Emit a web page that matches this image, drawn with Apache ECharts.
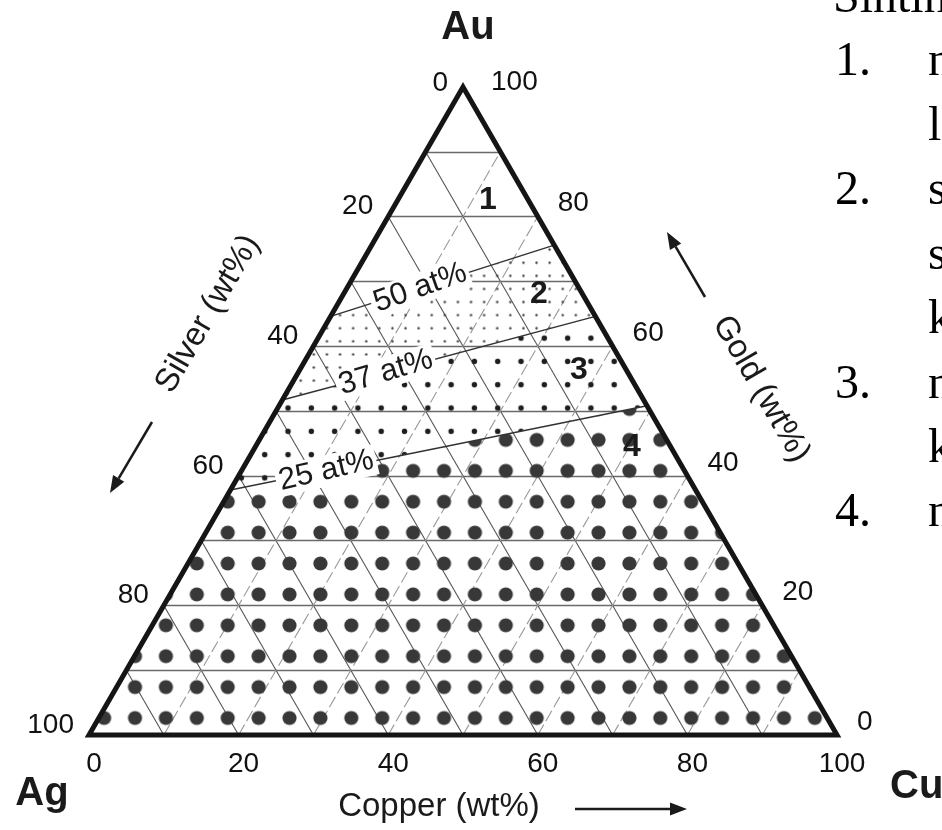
<!DOCTYPE html>
<html>
<head>
<meta charset="utf-8">
<script src="https://cdn.jsdelivr.net/npm/echarts@6/dist/echarts.min.js"></script>
<style>
  html, body { margin: 0; padding: 0; background: #fff; }
  #chart { width: 942px; height: 830px; }
</style>
</head>
<body>
<div id="chart"></div>
<script>
// Au-Ag-Cu ternary, all values in wt%
const ticks = [0, 20, 40, 60, 80, 100];
const gridSteps = [10, 20, 30, 40, 50, 60, 70, 80, 90];

// iso at% Au lines: Au wt% where each meets the Ag-Au edge (left) and the Au-Cu edge (right)
const atNames = ['50 at%', '37 at%', '25 at%'];
const atLeftAu = [64.6, 51.7, 37.8];
const atRightAu = [75.6, 64.6, 50.8];

const regionNames = ['1', '2', '3', '4'];
const sideText = ['Sintin', '1.', 'n', 'l', '2.', 's', 's', 'k', '3.', 'n', 'k', '4.', 'n'];

const H = Math.sqrt(3) / 2;
// point on Ag-Au edge / Au-Cu edge for a given Au wt%
const L = a => [a / 2, a * H];
const R = a => [100 - a / 2, a * H];

const chart = echarts.init(document.getElementById('chart'));

// filled zones between the iso at% lines
const zones = [
  [L(atLeftAu[0]), R(atRightAu[0]), R(atRightAu[1]), L(atLeftAu[1])],
  [L(atLeftAu[1]), R(atRightAu[1]), R(atRightAu[2]), L(atLeftAu[2])],
  [L(atLeftAu[2]), R(atRightAu[2]), [100, 0], [0, 0]]
];

function dotPattern(step, r, color, ox, oy) {
  const n = Math.round(step);
  const c = document.createElement('canvas');
  c.width = n; c.height = n;
  const ctx = c.getContext('2d');
  ctx.fillStyle = color;
  ctx.beginPath();
  ctx.arc(n / 2, n / 2, r, 0, Math.PI * 2);
  ctx.fill();
  const s = step / n;
  return { image: c, repeat: 'repeat', scaleX: s, scaleY: s, x: ox - s * n / 2, y: oy - s * n / 2 };
}
const patterns = [
  dotPattern(13.1, 1.2, '#444', 340, 302),
  dotPattern(23.3, 2.7, '#1e1e1e', 288, 408),
  dotPattern(30.9, 7.1, '#383838', 135, 718)
];

const font = '"Liberation Sans", Arial, sans-serif';

const option = {
  animation: false,
  backgroundColor: '#fff',
  grid: { left: 89, top: 87, width: 748, height: 648 },
  xAxis: { type: 'value', min: 0, max: 100, show: false },
  yAxis: { type: 'value', min: 0, max: 100 * H, show: false },
  series: [
    {
      type: 'lines', coordinateSystem: 'cartesian2d', silent: true, z: 2,
      lineStyle: { color: '#6a6a6a', width: 1.4, opacity: 1 },
      data: gridSteps.map(a => ({ coords: [L(a), R(a)] }))
    },
    {
      type: 'lines', coordinateSystem: 'cartesian2d', silent: true, z: 2,
      lineStyle: { color: '#555', width: 1.1, opacity: 1 },
      data: gridSteps.map(g => ({ coords: [L(100 - g), [100 - g, 0]] }))
    },
    {
      type: 'lines', coordinateSystem: 'cartesian2d', silent: true, z: 2,
      lineStyle: { color: '#999', width: 1.1, opacity: 1, type: [12, 4] },
      data: gridSteps.map(c => ({ coords: [[c, 0], R(100 - c)] }))
    },
    {
      type: 'custom', coordinateSystem: 'cartesian2d', silent: true, z: 3,
      data: zones.map((z, i) => [i, 0]),
      renderItem: function (params, api) {
        const pts = zones[params.dataIndex].map(p => api.coord(p));
        return { type: 'polygon', shape: { points: pts }, style: { fill: patterns[params.dataIndex], stroke: null } };
      }
    },
    {
      type: 'lines', coordinateSystem: 'cartesian2d', silent: true, z: 4,
      lineStyle: { color: '#333', width: 1.5, opacity: 1 },
      data: atLeftAu.map((a, i) => ({ coords: [L(a), R(atRightAu[i])] }))
    },
    {
      type: 'custom', coordinateSystem: 'cartesian2d', silent: true, z: 6,
      data: [[0, 0]],
      renderItem: function (params, api) {
        const pts = [[0, 0], [100, 0], [50, 100 * H]].map(p => api.coord(p));
        return {
          type: 'polygon', shape: { points: pts },
          style: { fill: 'none', stroke: '#151515', lineWidth: 5, lineJoin: 'miter' }
        };
      }
    }
  ]
};
chart.setOption(option);

// annotations
function txt(x, y, text, size, opts) {
  return Object.assign({
    type: 'text', x: x, y: y, silent: true, z: 60,
    style: Object.assign({
      text: text, font: size + 'px ' + font, fill: '#1a1a1a', align: 'center', verticalAlign: 'middle'
    }, opts && opts.style)
  }, opts && opts.el);
}
function arrow(tail, tip) {
  const dx = tip[0] - tail[0], dy = tip[1] - tail[1];
  const len = Math.sqrt(dx * dx + dy * dy);
  const ux = dx / len, uy = dy / len;
  const bx = tip[0] - ux * 17, by = tip[1] - uy * 17;
  return [
    { type: 'line', silent: true, z: 60, shape: { x1: tail[0], y1: tail[1], x2: bx, y2: by },
      style: { stroke: '#1a1a1a', lineWidth: 2.5 } },
    { type: 'polygon', silent: true, z: 60,
      shape: { points: [tip, [bx - uy * 6.5, by + ux * 6.5], [bx + uy * 6.5, by - ux * 6.5]] },
      style: { fill: '#1a1a1a' } }
  ];
}
const px = p => chart.convertToPixel({ gridIndex: 0 }, p);

const els = [];

// tick labels: Silver along the left edge, Gold along the right edge, Copper along the base
ticks.forEach(v => {
  const l = px(L(100 - v));
  els.push(txt(l[0] - 15, l[1] + (v === 0 ? -4 : -10), String(v), 28, { style: { align: 'right', fill: '#111' } }));
  const r = px(R(v));
  els.push(txt(r[0] + (v === 100 ? 28 : 20), r[1] + (v === 100 ? -5 : -13), String(v), 28, { style: { align: 'left', fill: '#111' } }));
  const b = px([v, 0]);
  els.push(txt(b[0] + 5, b[1] + 29, String(v), 28, { style: { fill: '#111' } }));
});

// iso at% labels, sitting on their lines
const atAt = [0.40, 0.33, 0.23];
atNames.forEach((name, i) => {
  const p1 = px(L(atLeftAu[i]));
  const p2 = px(R(atRightAu[i]));
  const f = atAt[i];
  const ang = Math.atan2(p1[1] - p2[1], p2[0] - p1[0]) + 0.03;
  els.push(txt(p1[0] + (p2[0] - p1[0]) * f, p1[1] + (p2[1] - p1[1]) * f, name, 31, {
    el: { rotation: ang },
    style: { backgroundColor: '#fff', padding: [0, 3] }
  }));
});

// zone numbers
const zonePos = [[488, 200], [539, 294], [579, 370], [632, 447]];
regionNames.forEach((n, i) => {
  els.push(txt(zonePos[i][0], zonePos[i][1], n, 32, { style: { font: 'bold 32px ' + font } }));
});

// vertices
els.push(txt(468, 28, 'Au', 40, { style: { font: 'bold 40px ' + font } }));
els.push(txt(42, 794, 'Ag', 40, { style: { font: 'bold 40px ' + font } }));
els.push(txt(890, 787, 'Cu', 40, { style: { font: 'bold 40px ' + font, align: 'left' } }));

// axis titles
els.push(txt(208, 314, 'Silver (wt%)', 33, { el: { rotation: Math.PI / 3 } }));
els.push(txt(761, 389, 'Gold (wt%)', 33, { el: { rotation: -Math.PI / 3 } }));
els.push(txt(439, 807, 'Copper (wt%)', 33));
els.push(...arrow([152, 422], [110, 493]));
els.push(...arrow([705, 297], [667, 232]));
els.push(...arrow([575, 809], [687, 809]));

// slide text cut off at the right
const sideX = [833, 835, 928, 928, 835, 928, 928, 928, 835, 928, 928, 835, 928];
const sideY = [-1, 62, 62, 127, 191, 191, 256, 320, 385, 385, 449, 513, 513];
sideText.forEach((t, i) => {
  els.push(txt(sideX[i], sideY[i], t, 48, {
    style: { font: '48px "Liberation Serif", "Times New Roman", serif', fill: '#000', align: 'left' }
  }));
});

chart.setOption({ graphic: { elements: els } });
</script>
</body>
</html>
